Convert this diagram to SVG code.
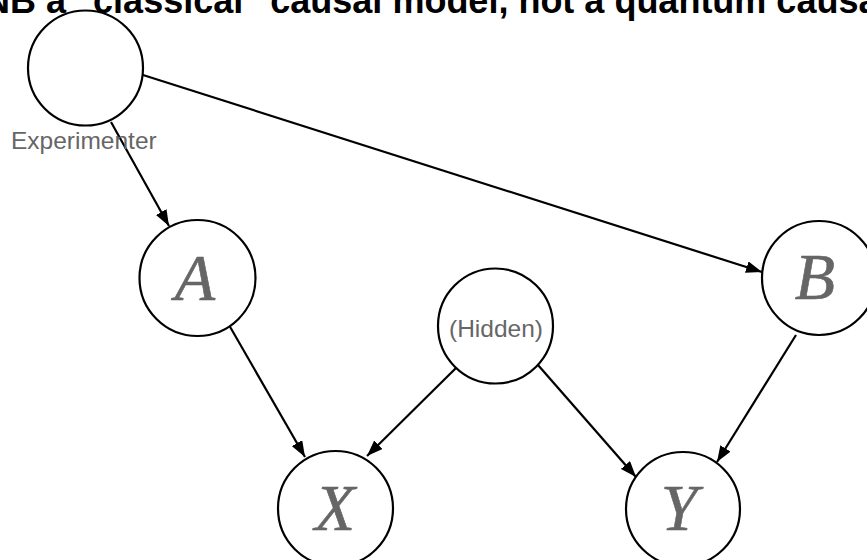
<svg xmlns="http://www.w3.org/2000/svg" width="867" height="560" viewBox="0 0 867 560">
<style>
.node{fill:#fff;stroke:#000;stroke-width:2.2}
.var{font-family:"Liberation Serif",serif;font-style:italic;font-size:66px;fill:#666;stroke:#666;stroke-width:0.6;text-anchor:middle}
.lbl{font-family:"Liberation Sans",Arial,sans-serif;font-size:24.5px;fill:#666}
.title{font-family:"Liberation Sans",Arial,sans-serif;font-size:36px;font-weight:bold;fill:#000}
.edge{stroke:#000;stroke-width:2.2;fill:none;marker-end:url(#arr)}
</style>
<defs>
<marker id="arr" markerUnits="userSpaceOnUse" markerWidth="16" markerHeight="12" refX="16" refY="6" orient="auto">
<path d="M0,0 L16,6 L0,12 z" fill="#000"/>
</marker>
</defs>
<rect width="867" height="560" fill="#fff"/>
<text class="title" x="-16" y="13">NB a "classical" causal model, not a quantum causal model</text>
<g id="edges">
<line class="edge" x1="111" y1="122" x2="169" y2="226"/>
<line class="edge" x1="143" y1="75" x2="762" y2="272"/>
<line class="edge" x1="229" y1="325" x2="305" y2="457"/>
<line class="edge" x1="456" y1="368" x2="367" y2="456"/>
<line class="edge" x1="538" y1="365" x2="636" y2="477"/>
<line class="edge" x1="796" y1="335" x2="717" y2="462"/>
</g>
<g id="experimenter">
<circle class="node" cx="85.5" cy="68" r="57.5"/>
<text class="lbl" x="11" y="149">Experimenter</text>
</g>
<g id="A">
<circle class="node" cx="197.5" cy="278" r="58"/>
<text class="var" x="195" y="300">A</text>
</g>
<g id="hidden">
<circle class="node" cx="495.5" cy="326" r="57.5"/>
<text class="lbl" x="496" y="337" text-anchor="middle">(Hidden)</text>
</g>
<g id="B">
<circle class="node" cx="819" cy="278" r="57"/>
<text class="var" x="815" y="299">B</text>
</g>
<g id="X">
<circle class="node" cx="335.5" cy="508.5" r="57.5"/>
<text class="var" x="335" y="530">X</text>
</g>
<g id="Y">
<circle class="node" cx="683" cy="509" r="57"/>
<text class="var" x="679" y="530">Y</text>
</g>
</svg>
